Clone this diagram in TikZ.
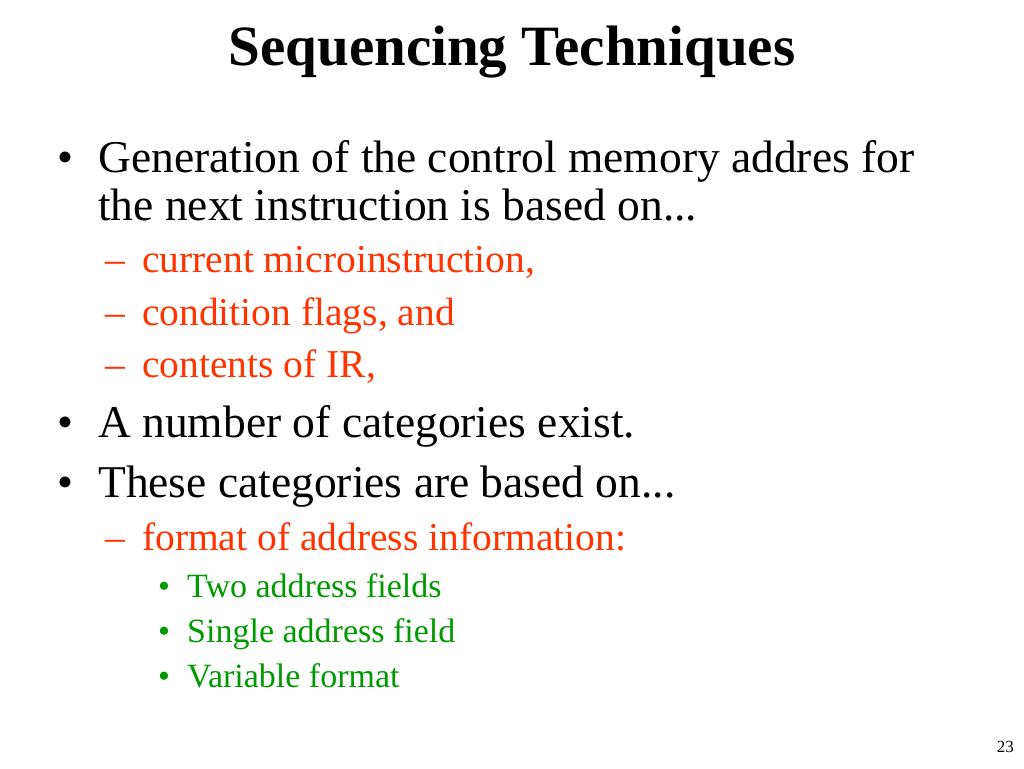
\documentclass[tikz,border=0pt]{standalone}
\usepackage{fontspec}
\setmainfont{Liberation Serif}
\definecolor{redo}{RGB}{255,51,0}
\definecolor{grn}{RGB}{0,153,0}
\begin{document}
\begin{tikzpicture}[x=1pt,y=-1pt,
 t/.style={anchor=base west,inner sep=0pt},
 l1/.style={t,font=\fontsize{45.5}{45.5}\selectfont},
 l2/.style={t,font=\fontsize{39.5}{39.5}\selectfont,text=redo},
 l3/.style={t,font=\fontsize{34}{34}\selectfont,text=grn}]
\useasboundingbox (0,0) rectangle (1024,768);
\node[anchor=base,inner sep=0pt,font=\fontsize{57}{57}\selectfont\bfseries] (title) at (512,65) {Sequencing Techniques};
\node[l1] (b1) at (57,172) {•};
\node[l1] (t1) at (98,172) {Generation of the control memory addres for};
\node[l1] (t1b) at (98,220) {the next instruction is based on...};
\node[l2] (d1) at (105,272) {–};
\node[l2] (d1t) at (142,272) {current microinstruction,};
\node[l2] (d2) at (105,325) {–};
\node[l2] (d2t) at (142,325) {condition flags, and};
\node[l2] (d3) at (105,377) {–};
\node[l2] (d3t) at (142,377) {contents of IR,};
\node[l1] (b2) at (57,437) {•};
\node[l1] (t2) at (98,437) {A number of categories exist.};
\node[l1] (b3) at (57,497) {•};
\node[l1] (t3) at (98,497) {These categories are based on...};
\node[l2] (d4) at (105,550) {–};
\node[l2] (d4t) at (142,550) {format of address information:};
\node[l3] (s1) at (158,597) {•};
\node[l3] (s1t) at (187,597) {Two address fields};
\node[l3] (s2) at (158,642) {•};
\node[l3] (s2t) at (187,642) {Single address field};
\node[l3] (s3) at (158,687) {•};
\node[l3] (s3t) at (187,687) {Variable format};
\node[anchor=base east,inner sep=0pt,font=\fontsize{17}{17}\selectfont] (pg) at (1014,752) {23};
\end{tikzpicture}
\end{document}
